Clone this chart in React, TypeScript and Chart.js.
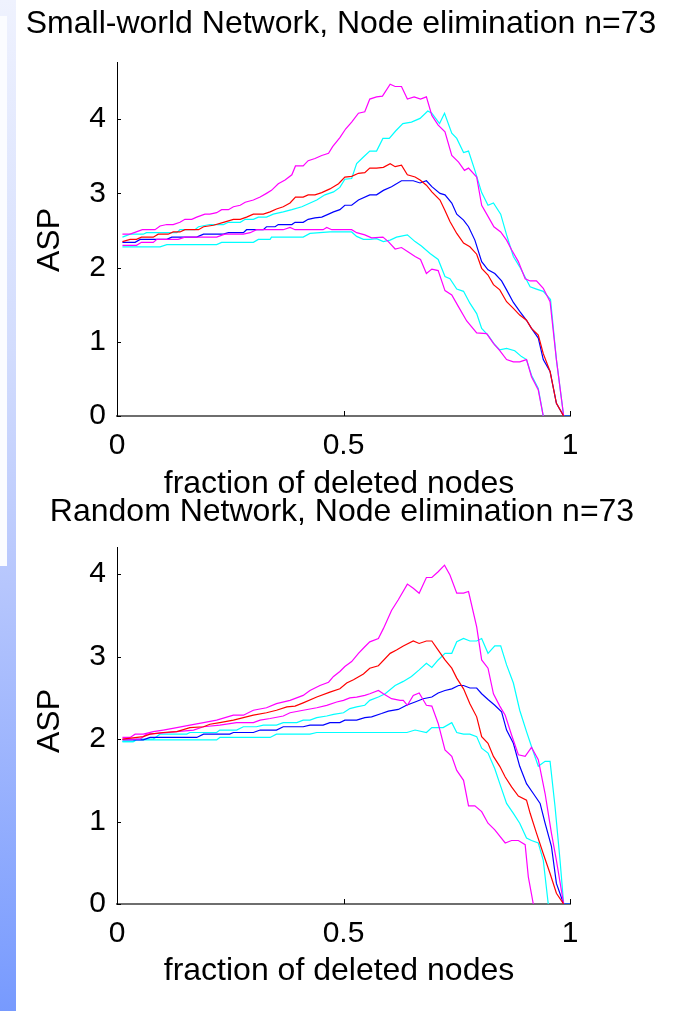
import React, { useEffect, useRef } from "react";
import { Chart, registerables } from "chart.js";

Chart.register(...registerables);

const FONT = "'Liberation Sans', Arial, Helvetica, sans-serif";

type Pt = [number, number];

// ---- Small-world network: ASP vs. fraction of deleted nodes ----
const swMagentaHigh: Pt[] = [[0.012,2.45],[0.029,2.45],[0.056,2.51],[0.084,2.51],[0.095,2.56],[0.110,2.58],[0.124,2.58],[0.139,2.61],[0.150,2.65],[0.165,2.65],[0.176,2.68],[0.194,2.72],[0.205,2.72],[0.220,2.74],[0.231,2.78],[0.246,2.78],[0.257,2.82],[0.272,2.84],[0.283,2.88],[0.301,2.91],[0.316,2.95],[0.330,3.00],[0.341,3.04],[0.356,3.13],[0.371,3.18],[0.386,3.25],[0.394,3.37],[0.411,3.37],[0.422,3.44],[0.437,3.47],[0.452,3.51],[0.467,3.54],[0.476,3.63],[0.492,3.75],[0.505,3.87],[0.518,3.96],[0.533,4.08],[0.547,4.10],[0.558,4.27],[0.573,4.30],[0.586,4.31],[0.603,4.47],[0.614,4.44],[0.628,4.44],[0.641,4.27],[0.656,4.30],[0.670,4.27],[0.683,4.30],[0.695,4.05],[0.709,3.92],[0.724,3.83],[0.739,3.51],[0.754,3.42],[0.767,3.31],[0.776,3.34],[0.794,3.22],[0.805,2.84],[0.819,2.69],[0.832,2.55],[0.847,2.48],[0.860,2.37],[0.871,2.24],[0.886,2.08],[0.901,1.85],[0.912,1.82],[0.926,1.82],[0.941,1.72],[0.956,1.54],[0.970,0.76],[0.986,0]];
const swCyanHigh: Pt[] = [[0.012,2.41],[0.029,2.45],[0.058,2.45],[0.065,2.47],[0.132,2.47],[0.139,2.51],[0.172,2.51],[0.180,2.55],[0.205,2.58],[0.235,2.58],[0.246,2.61],[0.272,2.61],[0.283,2.65],[0.301,2.65],[0.312,2.68],[0.330,2.68],[0.345,2.72],[0.367,2.75],[0.386,2.78],[0.408,2.82],[0.419,2.85],[0.441,2.91],[0.459,2.98],[0.478,3.02],[0.492,3.08],[0.503,3.19],[0.518,3.20],[0.529,3.40],[0.544,3.49],[0.558,3.57],[0.573,3.57],[0.587,3.74],[0.601,3.74],[0.615,3.84],[0.631,3.94],[0.650,3.96],[0.669,4.01],[0.686,4.11],[0.695,4.08],[0.712,3.94],[0.723,4.08],[0.739,3.81],[0.750,3.74],[0.765,3.55],[0.776,3.57],[0.790,3.31],[0.805,3.01],[0.819,2.84],[0.831,2.87],[0.847,2.72],[0.860,2.44],[0.875,2.15],[0.889,2.01],[0.912,1.74],[0.926,1.71],[0.941,1.68],[0.957,1.57],[0.970,0.76],[0.986,0],[1.0,0]];
const swRed: Pt[] = [[0.012,2.35],[0.029,2.38],[0.043,2.38],[0.054,2.41],[0.080,2.41],[0.091,2.45],[0.113,2.45],[0.124,2.48],[0.139,2.48],[0.150,2.51],[0.180,2.51],[0.191,2.55],[0.213,2.57],[0.235,2.61],[0.257,2.65],[0.272,2.65],[0.286,2.68],[0.301,2.72],[0.323,2.72],[0.338,2.75],[0.352,2.79],[0.367,2.82],[0.382,2.87],[0.394,2.95],[0.411,2.95],[0.422,2.98],[0.437,2.98],[0.452,3.01],[0.470,3.06],[0.489,3.13],[0.503,3.22],[0.518,3.23],[0.533,3.27],[0.547,3.28],[0.558,3.34],[0.573,3.34],[0.588,3.35],[0.603,3.40],[0.614,3.36],[0.628,3.38],[0.641,3.25],[0.658,3.22],[0.669,3.18],[0.683,3.11],[0.695,3.02],[0.713,2.91],[0.724,2.77],[0.735,2.62],[0.750,2.46],[0.765,2.33],[0.779,2.28],[0.794,2.18],[0.805,1.99],[0.819,1.90],[0.831,1.77],[0.845,1.70],[0.860,1.54],[0.875,1.45],[0.889,1.36],[0.904,1.29],[0.915,1.18],[0.930,1.09],[0.941,0.84],[0.956,0.60],[0.970,0.17],[0.986,0]];
const swBlue: Pt[] = [[0.012,2.34],[0.040,2.34],[0.051,2.38],[0.110,2.38],[0.121,2.41],[0.176,2.41],[0.191,2.45],[0.235,2.45],[0.246,2.47],[0.279,2.47],[0.286,2.51],[0.323,2.51],[0.330,2.55],[0.349,2.55],[0.356,2.58],[0.386,2.58],[0.393,2.61],[0.411,2.61],[0.422,2.65],[0.437,2.67],[0.452,2.68],[0.467,2.72],[0.478,2.75],[0.492,2.78],[0.503,2.84],[0.518,2.84],[0.533,2.91],[0.558,2.98],[0.573,2.98],[0.588,3.04],[0.606,3.09],[0.628,3.17],[0.654,3.17],[0.669,3.14],[0.683,3.17],[0.695,3.09],[0.713,3.00],[0.724,2.98],[0.739,2.87],[0.750,2.72],[0.765,2.64],[0.776,2.55],[0.790,2.37],[0.805,2.08],[0.819,1.97],[0.834,1.92],[0.849,1.82],[0.860,1.70],[0.875,1.53],[0.889,1.41],[0.904,1.29],[0.915,1.18],[0.930,1.05],[0.941,0.76],[0.956,0.60],[0.970,0.17],[0.986,0],[1.0,0]];
const swMagentaLow: Pt[] = [[0.012,2.30],[0.043,2.30],[0.054,2.34],[0.080,2.34],[0.088,2.38],[0.135,2.38],[0.150,2.41],[0.220,2.41],[0.238,2.45],[0.279,2.45],[0.294,2.47],[0.308,2.51],[0.367,2.51],[0.382,2.54],[0.393,2.51],[0.455,2.51],[0.463,2.54],[0.474,2.51],[0.518,2.51],[0.529,2.47],[0.547,2.44],[0.562,2.40],[0.587,2.41],[0.599,2.35],[0.614,2.25],[0.628,2.27],[0.643,2.21],[0.658,2.15],[0.670,2.11],[0.683,1.92],[0.695,1.98],[0.709,1.96],[0.724,1.69],[0.739,1.63],[0.754,1.47],[0.772,1.28],[0.794,1.12],[0.816,1.11],[0.831,0.98],[0.845,0.88],[0.860,0.76],[0.875,0.73],[0.889,0.73],[0.904,0.76],[0.915,0.53],[0.930,0.35],[0.941,0]];
const swCyanLow: Pt[] = [[0.012,2.28],[0.095,2.28],[0.110,2.31],[0.220,2.31],[0.231,2.34],[0.301,2.34],[0.312,2.38],[0.338,2.38],[0.341,2.41],[0.411,2.41],[0.426,2.46],[0.470,2.48],[0.518,2.48],[0.529,2.42],[0.544,2.38],[0.558,2.38],[0.573,2.39],[0.588,2.35],[0.603,2.37],[0.617,2.41],[0.641,2.44],[0.658,2.35],[0.672,2.29],[0.691,2.19],[0.709,2.11],[0.724,1.88],[0.735,1.85],[0.750,1.71],[0.765,1.68],[0.779,1.52],[0.794,1.38],[0.805,1.18],[0.819,1.09],[0.834,0.96],[0.845,0.89],[0.860,0.91],[0.878,0.88],[0.893,0.80],[0.904,0.76],[0.915,0.55],[0.930,0.37],[0.941,0]];

// ---- Random network: ASP vs. fraction of deleted nodes ----
const rnMagentaHigh: Pt[] = [[0.012,2.02],[0.029,2.02],[0.040,2.06],[0.058,2.06],[0.080,2.09],[0.102,2.11],[0.132,2.14],[0.161,2.17],[0.191,2.20],[0.220,2.23],[0.257,2.29],[0.279,2.29],[0.301,2.35],[0.330,2.38],[0.352,2.43],[0.382,2.47],[0.411,2.53],[0.426,2.59],[0.448,2.65],[0.467,2.69],[0.478,2.76],[0.492,2.82],[0.503,2.88],[0.518,2.94],[0.533,3.04],[0.547,3.12],[0.558,3.18],[0.577,3.22],[0.588,3.34],[0.606,3.56],[0.621,3.69],[0.641,3.88],[0.654,3.83],[0.667,3.77],[0.683,3.96],[0.695,3.96],[0.709,4.03],[0.723,4.11],[0.735,3.99],[0.750,3.77],[0.765,3.77],[0.776,3.79],[0.794,3.36],[0.805,2.96],[0.819,2.86],[0.831,2.55],[0.845,2.40],[0.857,2.29],[0.871,2.05],[0.886,1.81],[0.901,1.79],[0.915,1.90],[0.930,1.75],[0.945,1.34],[0.959,0.86],[0.970,0.53],[0.986,0]];
const rnRed: Pt[] = [[0.012,2.00],[0.058,2.03],[0.073,2.06],[0.102,2.08],[0.132,2.09],[0.161,2.14],[0.191,2.15],[0.205,2.18],[0.227,2.20],[0.257,2.23],[0.279,2.26],[0.301,2.29],[0.330,2.32],[0.352,2.35],[0.375,2.39],[0.393,2.40],[0.411,2.44],[0.441,2.51],[0.470,2.57],[0.492,2.61],[0.507,2.68],[0.522,2.72],[0.544,2.79],[0.558,2.86],[0.577,2.89],[0.603,3.04],[0.617,3.08],[0.632,3.13],[0.654,3.19],[0.667,3.16],[0.683,3.19],[0.695,3.19],[0.709,3.08],[0.724,2.96],[0.739,2.86],[0.750,2.74],[0.765,2.61],[0.779,2.43],[0.794,2.27],[0.805,2.03],[0.819,1.95],[0.831,1.79],[0.845,1.67],[0.857,1.54],[0.871,1.42],[0.886,1.31],[0.904,1.26],[0.912,1.10],[0.926,0.86],[0.941,0.61],[0.956,0.37],[0.970,0.13],[0.986,0]];
const rnMagentaLow: Pt[] = [[0.012,2.00],[0.051,2.00],[0.065,2.06],[0.091,2.07],[0.132,2.09],[0.169,2.11],[0.191,2.15],[0.227,2.17],[0.264,2.20],[0.301,2.20],[0.316,2.23],[0.338,2.25],[0.367,2.28],[0.382,2.32],[0.411,2.35],[0.441,2.38],[0.463,2.41],[0.485,2.45],[0.500,2.47],[0.514,2.50],[0.529,2.51],[0.547,2.53],[0.558,2.55],[0.577,2.59],[0.588,2.55],[0.606,2.49],[0.625,2.47],[0.632,2.47],[0.641,2.41],[0.654,2.53],[0.667,2.56],[0.683,2.41],[0.695,2.40],[0.709,2.19],[0.724,1.87],[0.739,1.79],[0.750,1.62],[0.765,1.50],[0.776,1.19],[0.790,1.19],[0.805,1.12],[0.819,0.98],[0.834,0.90],[0.857,0.74],[0.871,0.77],[0.886,0.77],[0.901,0.72],[0.908,0.33],[0.919,0]];
const rnCyanHigh: Pt[] = [[0.012,1.97],[0.036,1.97],[0.043,2.00],[0.080,2.00],[0.095,2.06],[0.154,2.06],[0.161,2.08],[0.220,2.08],[0.227,2.11],[0.264,2.11],[0.279,2.15],[0.308,2.15],[0.323,2.17],[0.352,2.17],[0.367,2.20],[0.397,2.20],[0.411,2.23],[0.426,2.23],[0.441,2.26],[0.463,2.28],[0.478,2.30],[0.500,2.32],[0.514,2.37],[0.529,2.39],[0.547,2.41],[0.558,2.47],[0.577,2.51],[0.592,2.55],[0.614,2.65],[0.632,2.70],[0.650,2.76],[0.667,2.84],[0.683,2.92],[0.695,2.87],[0.709,2.96],[0.724,3.04],[0.739,3.04],[0.750,3.18],[0.765,3.22],[0.779,3.19],[0.794,3.19],[0.805,3.22],[0.819,3.04],[0.834,3.13],[0.847,3.13],[0.860,2.90],[0.875,2.68],[0.889,2.35],[0.904,2.09],[0.915,1.91],[0.930,1.67],[0.945,1.73],[0.956,1.73],[0.967,1.18],[0.978,0.53],[0.986,0],[1.0,0]];
const rnBlue: Pt[] = [[0.012,1.99],[0.058,1.99],[0.073,2.02],[0.176,2.02],[0.191,2.06],[0.249,2.06],[0.257,2.08],[0.301,2.08],[0.316,2.11],[0.352,2.11],[0.367,2.15],[0.411,2.15],[0.426,2.17],[0.455,2.17],[0.470,2.20],[0.492,2.20],[0.503,2.23],[0.529,2.23],[0.547,2.26],[0.562,2.27],[0.584,2.31],[0.599,2.34],[0.621,2.36],[0.639,2.41],[0.658,2.45],[0.676,2.49],[0.695,2.51],[0.709,2.56],[0.724,2.59],[0.739,2.61],[0.754,2.65],[0.765,2.65],[0.779,2.62],[0.794,2.62],[0.805,2.55],[0.819,2.48],[0.834,2.41],[0.849,2.33],[0.860,2.11],[0.875,1.95],[0.889,1.67],[0.904,1.46],[0.919,1.34],[0.934,1.22],[0.945,0.98],[0.959,0.70],[0.970,0.25],[0.986,0],[1.0,0]];
const rnCyanLow: Pt[] = [[0.012,1.97],[0.036,1.97],[0.043,1.99],[0.220,1.99],[0.227,2.02],[0.338,2.02],[0.352,2.06],[0.426,2.06],[0.441,2.08],[0.640,2.08],[0.658,2.11],[0.683,2.08],[0.695,2.14],[0.720,2.14],[0.739,2.20],[0.750,2.08],[0.765,2.06],[0.779,2.06],[0.794,2.03],[0.805,1.89],[0.819,1.83],[0.834,1.64],[0.845,1.46],[0.860,1.22],[0.875,1.10],[0.889,0.98],[0.904,0.80],[0.915,0.77],[0.930,0.74],[0.941,0.53],[0.952,0]];

const xTickValues = [0, 0.5, 1];
const yTickValues = [0, 1, 2, 3, 4];
const xAxisLabel = "fraction of deleted nodes";
const yAxisLabel = "ASP";

const RED = "#ff0000";
const MAGENTA = "#ff00ff";
const BLUE = "#0000ff";
const CYAN = "#00ffff";

interface Series { points: Pt[]; color: string }
interface PanelSpec {
  title: string;
  series: Series[];
  yMax: number;
  areaTop: number;
  areaBottom: number;
  titleX: number;
  titleBaseline: number;
  xLabelX: number;
  xLabelBaseline: number;
  yLabelX: number;
  yLabelY: number;
}

const PAGE_W = 674;
const PAGE_H = 1011;
const AREA_LEFT = 117;
const AREA_RIGHT = 570;
const X_AXIS_BAND = 60;

const panels: PanelSpec[] = [
  {
    title: "Small-world Network, Node elimination n=73",
    series: [
      { points: swRed, color: RED },
      { points: swMagentaHigh, color: MAGENTA },
      { points: swMagentaLow, color: MAGENTA },
      { points: swBlue, color: BLUE },
      { points: swCyanHigh, color: CYAN },
      { points: swCyanLow, color: CYAN },
    ],
    yMax: 4.77,
    areaTop: 62,
    areaBottom: 416,
    titleX: 341,
    titleBaseline: 33,
    xLabelX: 339,
    xLabelBaseline: 493,
    yLabelX: 59,
    yLabelY: 240,
  },
  {
    title: "Random Network, Node elimination n=73",
    series: [
      { points: rnRed, color: RED },
      { points: rnMagentaHigh, color: MAGENTA },
      { points: rnMagentaLow, color: MAGENTA },
      { points: rnBlue, color: BLUE },
      { points: rnCyanHigh, color: CYAN },
      { points: rnCyanLow, color: CYAN },
    ],
    yMax: 4.33,
    areaTop: 547,
    areaBottom: 904,
    titleX: 342,
    titleBaseline: 521,
    xLabelX: 339,
    xLabelBaseline: 980,
    yLabelX: 59,
    yLabelY: 721,
  },
];

// Short tick marks pointing into the plot area, Matlab style.
const inwardTicks = {
  id: "inwardTicks",
  afterDraw(chart: any) {
    const { ctx, chartArea, scales } = chart;
    ctx.save();
    ctx.strokeStyle = "#000";
    ctx.lineWidth = 1;
    ctx.beginPath();
    for (const v of yTickValues) {
      const py = Math.round(scales.y.getPixelForValue(v)) + 0.5;
      ctx.moveTo(chartArea.left, py);
      ctx.lineTo(chartArea.left + 4, py);
    }
    for (const v of xTickValues) {
      const px = Math.round(scales.x.getPixelForValue(v)) + 0.5;
      ctx.moveTo(px, chartArea.bottom);
      ctx.lineTo(px, chartArea.bottom - 5);
    }
    ctx.stroke();
    ctx.restore();
  },
};

// Title and axis captions.
const captions = {
  id: "captions",
  afterDraw(chart: any, _args: any, opts: any) {
    const { ctx } = chart;
    ctx.save();
    ctx.fillStyle = "#000";
    ctx.font = `32px ${FONT}`;
    ctx.textAlign = "center";
    ctx.textBaseline = "alphabetic";
    ctx.fillText(opts.title, opts.titleX, opts.titleBaseline);
    ctx.fillText(opts.xLabel, opts.xLabelX, opts.xLabelBaseline);
    ctx.translate(opts.yLabelX, opts.yLabelY);
    ctx.rotate(-Math.PI / 2);
    ctx.fillText(opts.yLabel, 0, 0);
    ctx.restore();
  },
};

function buildConfig(spec: PanelSpec): any {
  return {
    type: "line",
    data: {
      datasets: spec.series.map((s) => ({
        data: s.points.map(([x, y]) => ({ x, y })),
        borderColor: s.color,
        backgroundColor: s.color,
        borderWidth: 1.2,
        pointRadius: 0,
        fill: false,
        tension: 0,
      })),
    },
    options: {
      animation: false,
      responsive: false,
      events: [],
      layout: {
        padding: {
          left: 0,
          right: PAGE_W - AREA_RIGHT,
          top: spec.areaTop,
          bottom: PAGE_H - spec.areaBottom - X_AXIS_BAND,
        },
      },
      plugins: {
        legend: { display: false },
        tooltip: { enabled: false },
        title: { display: false },
        captions: {
          title: spec.title,
          titleX: spec.titleX,
          titleBaseline: spec.titleBaseline,
          xLabel: xAxisLabel,
          xLabelX: spec.xLabelX,
          xLabelBaseline: spec.xLabelBaseline,
          yLabel: yAxisLabel,
          yLabelX: spec.yLabelX,
          yLabelY: spec.yLabelY,
        },
      },
      scales: {
        x: {
          type: "linear",
          min: 0,
          max: 1,
          afterFit: (s: any) => {
            s.height = X_AXIS_BAND;
          },
          afterBuildTicks: (s: any) => {
            s.ticks = xTickValues.map((value) => ({ value }));
          },
          ticks: {
            autoSkip: false,
            maxRotation: 0,
            padding: 12,
            color: "#000",
            font: { family: FONT, size: 30 },
            callback: (v: number) => String(v),
          },
          grid: { display: false, drawTicks: false },
          border: { display: true, color: "#6e6e6e", width: 2 },
        },
        y: {
          type: "linear",
          min: 0,
          max: spec.yMax,
          afterFit: (s: any) => {
            s.width = AREA_LEFT;
          },
          afterBuildTicks: (s: any) => {
            s.ticks = yTickValues.map((value) => ({ value }));
          },
          ticks: {
            autoSkip: false,
            padding: 11,
            color: "#000",
            font: { family: FONT, size: 30 },
            callback: (v: number) => String(v),
          },
          grid: { display: false, drawTicks: false },
          border: { display: true, color: "#000", width: 1 },
        },
      },
    },
    plugins: [inwardTicks, captions],
  };
}

function Panel({ spec }: { spec: PanelSpec }) {
  const ref = useRef<HTMLCanvasElement>(null);
  useEffect(() => {
    if (!ref.current) return;
    const chart = new Chart(ref.current, buildConfig(spec));
    return () => chart.destroy();
  }, [spec]);
  return (
    <canvas
      ref={ref}
      width={PAGE_W}
      height={PAGE_H}
      style={{ position: "absolute", left: 0, top: 0, width: PAGE_W, height: PAGE_H }}
    />
  );
}

export default function App() {
  return (
    <div
      style={{
        position: "absolute",
        left: 0,
        top: 0,
        width: PAGE_W,
        height: PAGE_H,
        background: "#ffffff",
        overflow: "hidden",
      }}
    >
      {/* slide edge strip */}
      <div
        style={{
          position: "absolute",
          left: 0,
          top: 0,
          width: 16,
          height: PAGE_H,
          background:
            "linear-gradient(to bottom, #eff2fe 0%, #d2dcfd 35%, #b6c6fd 58%, #779afe 100%)",
        }}
      />
      <div
        style={{
          position: "absolute",
          left: 0,
          top: 16,
          width: 7,
          height: 550,
          background: "#fbfcff",
        }}
      />
      {panels.map((p) => (
        <Panel key={p.title} spec={p} />
      ))}
    </div>
  );
}
